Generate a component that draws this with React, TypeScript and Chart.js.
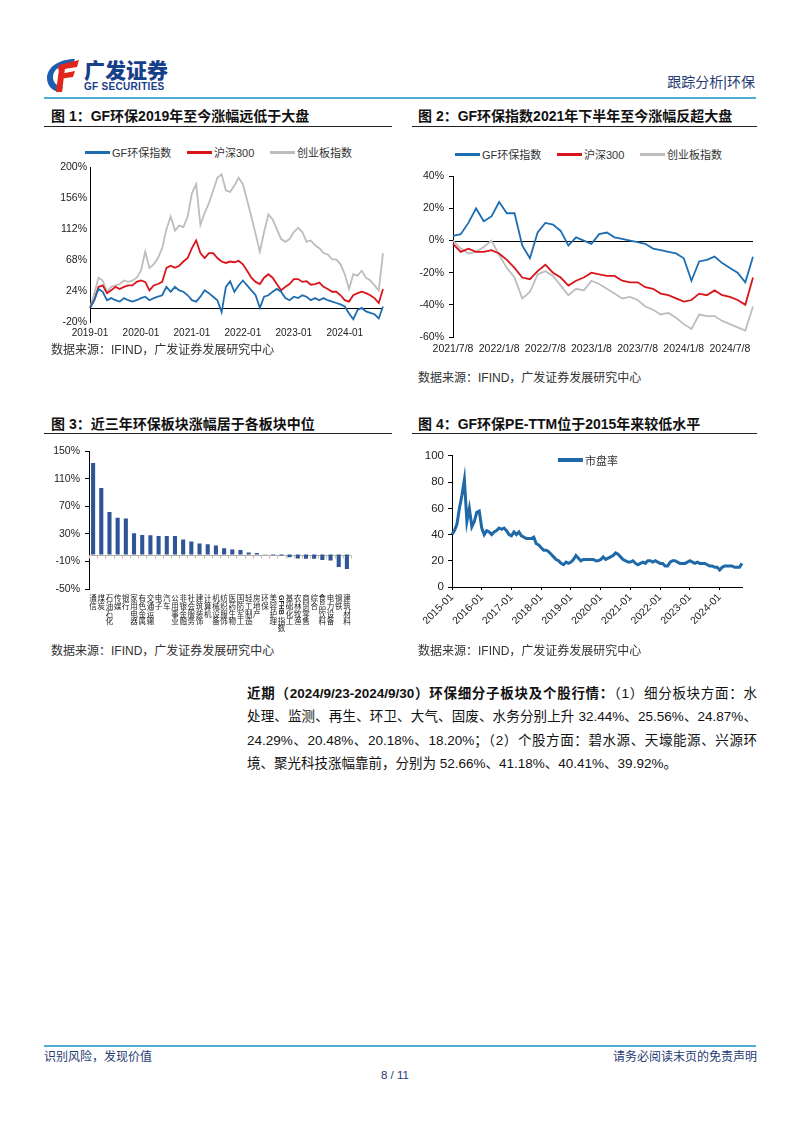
import React, { useEffect, useRef } from 'react';
import { Chart, registerables } from 'chart.js';
Chart.register(...registerables);

const FONT = '"Liberation Sans", "Noto Sans CJK SC", sans-serif';
Chart.defaults.font.family = FONT;
Chart.defaults.color = '#222';

const BLUE = '#1f6db1';
const RED = '#d9141b';
const GRAY = '#bdbdbd';
const BAR = '#2f5597';
const PE_BLUE = '#1f69a8';
const NAVY = '#1f3c74';
const LINE_BLUE = '#4eaed6';

function monthLabels(y0: number, m0: number, y1: number, m1: number, fmt: (y: number, m: number) => string) {
  const out: string[] = [];
  let y = y0, m = m0;
  while (y < y1 || (y === y1 && m <= m1)) {
    out.push(fmt(y, m));
    m++;
    if (m > 12) { m = 1; y++; }
  }
  return out;
}
const ym = (y: number, m: number) => `${y}-${String(m).padStart(2, '0')}`;

// ---------- Chart 1 ----------
const c1Labels = [...monthLabels(2019, 1, 2024, 9, ym), '2024-09-30'];
const c1Ticks = ['2019-01', '2020-01', '2021-01', '2022-01', '2023-01', '2024-01'];
const c1Gf = [
  0, 11, 27, 23, 11, 14, 11, 9, 14, 11, 9, 11,
  14, 16, 11, 14, 16, 18, 30, 23, 30, 25, 23, 18,
  11, 9, 16, 25, 21, 16, 11, -6, 30, 38, 23, 32,
  39, 32, 25, 18, 0, 16, 18, 23, 27, 23, 14, 11,
  16, 14, 18, 16, 11, 14, 11, 14, 11, 9, 7, 5,
  2, -8, -16, -3, 0, -5, -7, -9, -15,
  2,
];
const c1Hs = [
  0, 11, 30, 32, 21, 25, 30, 27, 30, 32, 32, 37,
  39, 37, 25, 32, 34, 37, 57, 60, 57, 60, 66, 71,
  85, 96, 78, 71, 78, 78, 71, 66, 64, 66, 65, 67,
  62, 53, 43, 37, 34, 43, 48, 43, 34, 25, 30, 34,
  41, 41, 37, 38, 33, 34, 36, 30, 27, 23, 23, 18,
  11, 9, 18, 21, 23, 21, 18, 14, 7,
  27,
];
const c1Cy = [
  0, 20, 43, 39, 23, 30, 32, 34, 39, 37, 39, 43,
  53, 80, 57, 62, 71, 85, 112, 130, 110, 117, 115, 130,
  163, 176, 118, 135, 149, 167, 185, 190, 167, 165, 174, 185,
  176, 153, 130, 105, 80, 108, 133, 126, 112, 98, 94, 98,
  108, 114, 108, 94, 96, 89, 85, 78, 76, 69, 69, 62,
  48, 27, 48, 46, 53, 43, 39, 32, 25,
  78,
];

// ---------- Chart 2 ----------
const c2Labels = [...monthLabels(2021, 7, 2024, 9, (y, m) => `${y}/${m}/8`), '2024/9/30'];
const c2Ticks = ['2021/7/8', '2022/1/8', '2022/7/8', '2023/1/8', '2023/7/8', '2024/1/8', '2024/7/8'];
const c2Gf = [3, 4, 11, 20, 12, 15, 24, 17, 17, -3, -11, 5, 11, 10, 6, -3, 2, 0, -2, 4, 5, 2, 1, 0, -1, -2, -5, -6, -7, -8, -11, -25, -13, -12, -10, -14, -17, -20, -26, -10];
const c2Hs = [-2, -7, -5, -7, -7, -6, -8, -12, -17, -23, -24, -19, -15, -20, -23, -28, -25, -23, -20, -21, -22, -22, -25, -26, -26, -29, -30, -33, -34, -36, -38, -37, -33, -34, -31, -34, -35, -37, -40, -23];
const c2Cy = [0, -5, -8, -7, -4, 0, -9, -17, -23, -36, -32, -21, -19, -22, -28, -34, -30, -31, -25, -27, -30, -33, -36, -35, -37, -41, -43, -46, -45, -48, -52, -55, -46, -47, -47, -50, -52, -54, -56, -41];

// ---------- Chart 3 ----------
const c3Labels = ['通信', '煤炭', '石油石化', '传媒', '银行', '家用电器', '有色金属', '交通运输', '电子', '汽车', '公用事业', '非银金融', '社会服务', '建筑装饰', '计算机', '机械设备', '纺织服饰', '医药生物', '国防军工', '轻工制造', '房地产', '环保', '美容护理', 'GFHB指数', '基础化工', '农林牧渔', '商贸零售', '综合', '食品饮料', '电力设备', '钢铁', '建筑材料'];
const c3Values = [133, 96.6, 62, 53.5, 52.5, 31, 28.6, 28.2, 26.8, 26.8, 26.8, 22, 19, 16, 15, 13, 9.3, 7.5, 6.5, 3, 2.3, 0.3, -1, -1.3, -3.8, -5.6, -6, -6, -8, -8.5, -18, -21];

// ---------- Chart 4 ----------
const c4Labels = [...monthLabels(2015, 1, 2024, 9, ym), '2024-09-30'];
const c4Ticks = ['2015-01', '2016-01', '2017-01', '2018-01', '2019-01', '2020-01', '2021-01', '2022-01', '2023-01', '2024-01'];
const c4Pe = [
  40, 43, 48, 60, 70, 82, 50, 60, 46, 50, 57, 58,
  45, 40, 43, 42, 40, 42, 43, 45, 44, 45, 43, 40,
  39, 42, 40, 42, 39, 38, 37, 37, 37, 38, 33, 32,
  30, 28, 28, 27, 25, 23, 21, 20, 18, 17, 19, 18,
  19, 21, 24, 22, 20, 21, 21, 21, 21, 21, 20, 20,
  21, 23, 21, 22, 23, 24, 26, 25, 23, 21, 20, 19,
  19, 20, 18, 17, 18, 19, 18, 20, 20, 19, 20, 19,
  18, 18, 16, 16, 19, 20, 20, 19, 18, 18, 18, 19,
  20, 19, 18, 19, 18, 18, 18, 17, 16, 16, 15, 15,
  13, 15, 16, 16, 16, 16, 15, 15, 15,
  18,
];

// ---------- plugins ----------
const zeroLinePlugin = {
  id: 'zeroLine',
  beforeDatasetsDraw(chart: any, _args: any, opts: any) {
    if (!opts || !opts.color) return;
    const { ctx, chartArea } = chart;
    const y = Math.round(chart.scales.y.getPixelForValue(0)) + 0.5;
    ctx.save();
    ctx.strokeStyle = opts.color;
    ctx.lineWidth = 1;
    ctx.beginPath();
    ctx.moveTo(chartArea.left, y);
    ctx.lineTo(chartArea.right, y);
    ctx.stroke();
    if (opts.ticks) {
      const xs = chart.scales.x;
      const n = chart.data.labels.length;
      const step = xs.getPixelForValue(1) - xs.getPixelForValue(0);
      ctx.strokeStyle = opts.tickColor || opts.color;
      for (let i = 0; i <= n; i++) {
        const x = Math.round(xs.getPixelForValue(i) - step / 2) + 0.5;
        ctx.beginPath();
        ctx.moveTo(x, y);
        ctx.lineTo(x, y + 3);
        ctx.stroke();
      }
    }
    ctx.restore();
  },
};

const verticalLabelsPlugin = {
  id: 'vLabels',
  afterDraw(chart: any) {
    const { ctx, chartArea } = chart;
    const xs = chart.scales.x;
    const base = chartArea.bottom;
    ctx.save();
    ctx.fillStyle = '#222';
    ctx.textAlign = 'center';
    ctx.textBaseline = 'middle';
    (chart.data.labels as string[]).forEach((lab, i) => {
      const x = xs.getPixelForValue(i);
      let y = base + 9.6;
      let rest = lab;
      const m = lab.match(/^([A-Za-z]+)(.*)$/);
      if (m) {
        ctx.save();
        ctx.font = `bold 7px "Liberation Sans"`;
        const w = ctx.measureText(m[1]).width;
        ctx.translate(x, base + 6);
        ctx.rotate(Math.PI / 2);
        ctx.textAlign = 'left';
        ctx.fillText(m[1], 0, 0);
        ctx.restore();
        y = base + 6 + w + 6;
        rest = m[2];
      }
      ctx.font = `7.5px "Noto Sans CJK SC"`;
      for (const ch of rest) {
        ctx.fillText(ch, x, y);
        y += 7.6;
      }
    });
    ctx.restore();
  },
};

const baseOpts = {
  responsive: false,
  maintainAspectRatio: false,
  animation: false as const,
  events: [] as any[],
};

function ChartBox({ left, top, width, height, make }: { left: number; top: number; width: number; height: number; make: () => any }) {
  const ref = useRef<HTMLCanvasElement>(null);
  useEffect(() => {
    const chart = new Chart(ref.current as HTMLCanvasElement, make());
    return () => chart.destroy();
  }, []);
  return (
    <div style={{ position: 'absolute', left, top, width, height }}>
      <canvas ref={ref} width={width} height={height} style={{ width, height, display: 'block' }} />
    </div>
  );
}

const lineDs = (label: string, data: number[], color: string, w = 1.8) => ({
  label, data, borderColor: color, backgroundColor: color, borderWidth: w, pointRadius: 0, tension: 0, fill: false,
});

function makeChart1() {
  return {
    type: 'line',
    data: { labels: c1Labels, datasets: [lineDs('GF环保指数', c1Gf, BLUE), lineDs('沪深300', c1Hs, RED), lineDs('创业板指数', c1Cy, GRAY)] },
    options: {
      ...baseOpts,
      layout: { padding: { top: 5, right: 7, left: 0, bottom: 0 } },
      plugins: { legend: { display: false }, tooltip: { enabled: false }, zeroLine: { color: '#000' } },
      scales: {
        x: {
          grid: { display: false, drawTicks: false }, border: { display: false },
          ticks: { autoSkip: false, maxRotation: 0, minRotation: 0, padding: 5, font: { size: 10 }, color: '#222',
            callback: (_v: any, i: number) => (c1Ticks.includes(c1Labels[i]) ? c1Labels[i] : '') },
          afterFit: (s: any) => { s.height = 21; },
        },
        y: {
          min: -20, max: 200,
          ticks: { stepSize: 44, padding: 3, font: { size: 10.5 }, color: '#222', callback: (v: any) => v + '%' },
          grid: { drawOnChartArea: false, drawTicks: false },
          border: { color: '#000' },
          afterFit: (s: any) => { s.width = 46; },
        },
      },
    },
    plugins: [zeroLinePlugin],
  };
}

function makeChart2() {
  return {
    type: 'line',
    data: { labels: c2Labels, datasets: [lineDs('GF环保指数', c2Gf, BLUE), lineDs('沪深300', c2Hs, RED), lineDs('创业板指数', c2Cy, GRAY)] },
    options: {
      ...baseOpts,
      layout: { padding: { top: 5, right: 9, left: 0, bottom: 0 } },
      plugins: { legend: { display: false }, tooltip: { enabled: false }, zeroLine: { color: '#000' } },
      scales: {
        x: {
          grid: { display: false, drawTicks: false }, border: { display: false },
          ticks: { autoSkip: false, maxRotation: 0, minRotation: 0, padding: 6, font: { size: 10.5 }, color: '#222',
            callback: (_v: any, i: number) => (c2Ticks.includes(c2Labels[i]) ? c2Labels[i] : '') },
          afterFit: (s: any) => { s.height = 23; },
        },
        y: {
          min: -60, max: 40,
          ticks: { stepSize: 20, padding: 5, font: { size: 10.5 }, color: '#222', callback: (v: any) => v + '%' },
          grid: { drawOnChartArea: false, tickLength: 4, color: '#000' },
          border: { color: '#000' },
          afterFit: (s: any) => { s.width = 41; },
        },
      },
    },
    plugins: [zeroLinePlugin],
  };
}

function makeChart3() {
  return {
    type: 'bar',
    data: { labels: c3Labels, datasets: [{ label: '涨幅', data: c3Values, backgroundColor: BAR, barPercentage: 0.5, categoryPercentage: 1.0 }] },
    options: {
      ...baseOpts,
      layout: { padding: { top: 8, right: 23, left: 0, bottom: 0 } },
      plugins: { legend: { display: false }, tooltip: { enabled: false }, zeroLine: { color: '#b0b0b0', ticks: true, tickColor: '#c8b89a' } },
      scales: {
        x: {
          grid: { display: false, drawTicks: false }, border: { display: false },
          ticks: { display: false },
          afterFit: (s: any) => { s.height = 51; },
        },
        y: {
          min: -50, max: 150,
          ticks: { stepSize: 40, padding: 5, font: { size: 10.5 }, color: '#222', callback: (v: any) => v + '%' },
          grid: { drawOnChartArea: false, tickLength: 4, color: '#000' },
          border: { color: '#000' },
          afterFit: (s: any) => { s.width = 45; },
        },
      },
    },
    plugins: [zeroLinePlugin, verticalLabelsPlugin],
  };
}

function makeChart4() {
  return {
    type: 'line',
    data: { labels: c4Labels, datasets: [lineDs('市盘率', c4Pe, PE_BLUE, 3)] },
    options: {
      ...baseOpts,
      layout: { padding: { top: 9, right: 10, left: 0, bottom: 0 } },
      plugins: { legend: { display: false }, tooltip: { enabled: false } },
      scales: {
        x: {
          grid: { drawOnChartArea: false, tickLength: 3, color: (c: any) => (c4Ticks.includes(c4Labels[c.index]) ? '#000' : 'rgba(0,0,0,0)') },
          border: { color: '#000' },
          ticks: { autoSkip: false, maxRotation: 45, minRotation: 45, padding: 1, font: { size: 10.5 }, color: '#222',
            callback: (_v: any, i: number) => (c4Ticks.includes(c4Labels[i]) ? c4Labels[i] : '') },
          afterFit: (s: any) => { s.height = 58; },
        },
        y: {
          min: 0, max: 100,
          ticks: { stepSize: 20, padding: 4, font: { size: 11.5 }, color: '#222' },
          grid: { drawOnChartArea: false, tickLength: 4, color: '#000' },
          border: { color: '#000' },
          afterFit: (s: any) => { s.width = 40; },
        },
      },
    },
  };
}

const abs = (left: number, top: number, extra: React.CSSProperties = {}): React.CSSProperties => ({
  position: 'absolute', left, top, whiteSpace: 'nowrap', ...extra,
});

function LegendItem({ left, top, color, text, w = 3 }: { left: number; top: number; color: string; text: string; w?: number }) {
  return (
    <div style={abs(left, top - 8, { display: 'flex', alignItems: 'center', height: 16, fontFamily: FONT, fontSize: 11, color: '#333' })}>
      <div style={{ width: 25, height: w, background: color, marginRight: 2 }} />
      <span>{text}</span>
    </div>
  );
}

function Title({ left, top, text }: { left: number; top: number; text: string }) {
  return <div style={abs(left, top, { fontFamily: FONT, fontSize: 14, fontWeight: 'bold', lineHeight: '18px', color: '#111' })}>{text}</div>;
}
function Rule({ left, top, width, h = 1, color = '#222' }: { left: number; top: number; width: number; h?: number; color?: string }) {
  return <div style={{ position: 'absolute', left, top, width, height: h, background: color }} />;
}
function Source({ left, top }: { left: number; top: number }) {
  return <div style={abs(left, top, { fontFamily: FONT, fontSize: 12, lineHeight: '16px', color: '#333' })}>数据来源：IFIND，广发证券发展研究中心</div>;
}

const lineStyle = (top: number, justify: boolean): React.CSSProperties => ({
  position: 'absolute', left: 247, top, width: 510, fontFamily: FONT, fontSize: 13.5, lineHeight: '23px', color: '#111',
  textAlign: justify ? 'justify' : 'left', textAlignLast: justify ? 'justify' : 'left', whiteSpace: 'nowrap',
} as React.CSSProperties);

export default function App() {
  return (
    <div style={{ position: 'absolute', left: 0, top: 0, width: 802, height: 1133, background: '#fff', overflow: 'hidden', fontFamily: FONT }}>
      {/* header */}
      <svg style={{ position: 'absolute', left: 44, top: 56 }} width="38" height="38" viewBox="0 0 38 38">
        <path d="M31 3 C14 3 3 12 3 22 C3 30 9 36 17 36 L19 31 C13 30 9 27 9 21 C9 14 16 8 29 8 Z" fill="#1d5fae" />
        <path d="M15 9 L35 4 L33 11 L14 14 Z" fill="#e1251b" />
        <path d="M16 18 L31 15 L29 21 L15 23 Z" fill="#e1251b" />
        <path d="M15 13 L21 12 L18 36 L12 36 Z" fill="#e1251b" />
      </svg>
      <div style={abs(84, 57, { fontSize: 21, fontWeight: 900, lineHeight: '24px', color: '#17408a', fontFamily: '"Noto Sans CJK SC", sans-serif' })}>广发证券</div>
      <div style={abs(84, 81, { fontSize: 10, fontWeight: 'bold', lineHeight: '12px', color: '#17408a', letterSpacing: 0.3, fontFamily: '"Liberation Sans", sans-serif' })}>GF SECURITIES</div>
      <div style={abs(0, 74, { width: 755, textAlign: 'right', fontSize: 14, lineHeight: '16px', color: NAVY })}>跟踪分析|环保</div>
      <Rule left={44} top={97} width={712} h={2} color={LINE_BLUE} />

      {/* figure 1 */}
      <Title left={51} top={107} text="图 1：GF环保2019年至今涨幅远低于大盘" />
      <Rule left={44} top={126} width={348} />
      <LegendItem left={85} top={152} color={BLUE} text="GF环保指数" />
      <LegendItem left={187} top={152} color={RED} text="沪深300" />
      <LegendItem left={270} top={152} color={GRAY} text="创业板指数" />
      <ChartBox left={44} top={158} width={346} height={185} make={makeChart1} />
      <Source left={51} top={342} />

      {/* figure 2 */}
      <Title left={418} top={107} text="图 2：GF环保指数2021年下半年至今涨幅反超大盘" />
      <Rule left={412} top={126} width={345} />
      <LegendItem left={455} top={154} color={BLUE} text="GF环保指数" />
      <LegendItem left={557} top={154} color={RED} text="沪深300" />
      <LegendItem left={640} top={154} color={GRAY} text="创业板指数" />
      <ChartBox left={412} top={165} width={350} height={195} make={makeChart2} />
      <Source left={418} top={370} />

      {/* figure 3 */}
      <Title left={51} top={415} text="图 3：近三年环保板块涨幅居于各板块中位" />
      <Rule left={44} top={433} width={348} />
      <ChartBox left={44} top={440} width={330} height={200} make={makeChart3} />
      <Source left={51} top={643} />

      {/* figure 4 */}
      <Title left={418} top={415} text="图 4：GF环保PE-TTM位于2015年来较低水平" />
      <Rule left={412} top={433} width={345} />
      <ChartBox left={412} top={445} width={340} height={200} make={makeChart4} />
      <LegendItem left={558} top={460} color={PE_BLUE} text="市盘率" w={4} />
      <Source left={418} top={643} />

      {/* paragraph */}
      <div style={lineStyle(682, true)}><b>近期（2024/9/23-2024/9/30）环保细分子板块及个股行情：</b>（1）细分板块方面：水</div>
      <div style={lineStyle(705.3, true)}>处理、监测、再生、环卫、大气、固废、水务分别上升 32.44%、25.56%、24.87%、</div>
      <div style={lineStyle(728.6, true)}>24.29%、20.48%、20.18%、18.20%；（2）个股方面：碧水源、天壕能源、兴源环</div>
      <div style={lineStyle(751.9, false)}>境、聚光科技涨幅靠前，分别为 52.66%、41.18%、40.41%、39.92%。</div>

      {/* footer */}
      <Rule left={44} top={1045} width={712} h={2} color={LINE_BLUE} />
      <div style={abs(44, 1049, { fontSize: 12, lineHeight: '16px', color: NAVY })}>识别风险，发现价值</div>
      <div style={abs(0, 1049, { width: 757, textAlign: 'right', fontSize: 12, lineHeight: '16px', color: NAVY })}>请务必阅读末页的免责声明</div>
      <div style={abs(0, 1067, { width: 790, textAlign: 'center', fontSize: 11.5, lineHeight: '16px', color: NAVY })}>8 / 11</div>
    </div>
  );
}
